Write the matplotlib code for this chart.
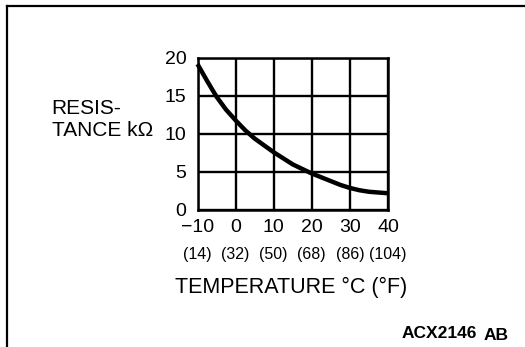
import matplotlib
matplotlib.use("Agg")
import matplotlib.pyplot as plt
from matplotlib.lines import Line2D

temp_c = [-10, -7.5, -5, -2.5, 0, 2.5, 5, 7.5, 10, 12.5, 15, 17.5, 20, 22.5, 25, 27.5, 30, 32.5, 35, 37.5, 40]
resistance_kohm = [19.2, 17.0, 14.9, 13.2, 11.8, 10.5, 9.4, 8.5, 7.6, 6.8, 6.0, 5.4, 4.8, 4.3, 3.8, 3.3, 2.9, 2.6, 2.4, 2.3, 2.2]
x_ticks = [-10, 0, 10, 20, 30, 40]
x_tick_labels = ["\u221210", "0", "10", "20", "30", "40"]
f_labels = ["(14)", "(32)", "(50)", "(68)", "(86)", "(104)"]
y_ticks = [0, 5, 10, 15, 20]

plt.rcParams['font.family'] = ['Liberation Sans', 'DejaVu Sans']

W, H = 525, 347
fig = plt.figure(figsize=(W / 100, H / 100), dpi=100)
fig.patch.set_facecolor("white")

def px(x, y):
    return x / W, 1 - y / H

# frame lines (left and top)
fig.add_artist(Line2D([6.5 / W, 6.5 / W], [0, 1 - 5.5 / H], color="black", lw=1.6, transform=fig.transFigure))
fig.add_artist(Line2D([6.5 / W, 1], [1 - 5.5 / H, 1 - 5.5 / H], color="black", lw=1.6, transform=fig.transFigure))

left, right, top, bottom = 197.5, 388, 58, 210
ax = fig.add_axes([left / W, 1 - bottom / H, (right - left) / W, (bottom - top) / H])
ax.set_xlim(-10, 40)
ax.set_ylim(0, 20)
ax.set_xticks(x_ticks)
ax.set_yticks(y_ticks)
ax.grid(True, color="black", lw=1.7)
ax.tick_params(length=0, labelsize=14, pad=8)
ax.set_xticklabels([])
ax.set_yticklabels([str(v) for v in y_ticks])
for s in ax.spines.values():
    s.set_linewidth(1.8)
ax.set_axisbelow(True)

ax.plot(temp_c, resistance_kohm, color="black", lw=3.2, solid_capstyle="butt", solid_joinstyle="round",
        clip_on=False, zorder=5)

for xv, lab, fl in zip(x_ticks, x_tick_labels, f_labels):
    ax.annotate(lab, xy=(xv, 0), xycoords="data", xytext=(0, -18), textcoords="offset pixels",
                ha="center", va="center", fontsize=14)
    ax.annotate(fl, xy=(xv, 0), xycoords="data", xytext=(0, -45), textcoords="offset pixels",
                ha="center", va="center", fontsize=11.5)

fig.text(*px(51, 108.5), "RESIS-", ha="left", va="center", fontsize=15)
fig.text(*px(52, 130.5), "TANCE k\u03a9", ha="left", va="center", fontsize=15)
fig.text(*px(291, 287), "TEMPERATURE \u00b0C (\u00b0F)", ha="center", va="center", fontsize=15.5)
fig.text(*px(402, 333), "ACX2146", ha="left", va="center", fontsize=12.5, fontweight="bold")
fig.text(*px(484, 335), "AB", ha="left", va="center", fontsize=12.5, fontweight="bold")

fig.savefig("out.png", dpi=100, facecolor="white")
